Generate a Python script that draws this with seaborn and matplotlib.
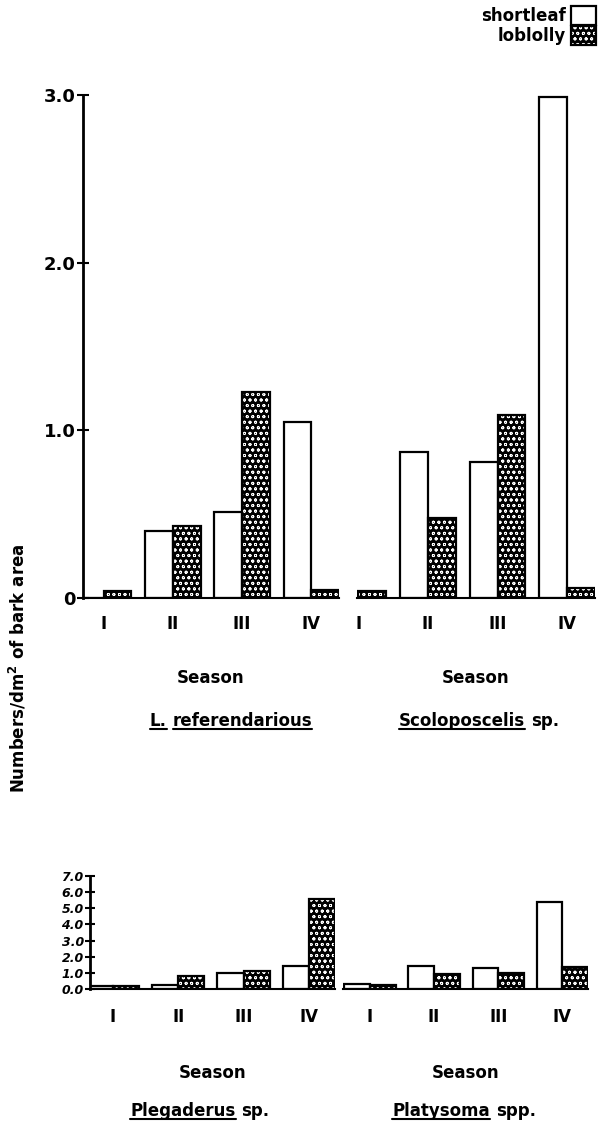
# Bark beetle predators per dm2 of bark, by season, on shortleaf vs loblolly pine

import pandas as pd
import seaborn as sns
import matplotlib.pyplot as plt
from matplotlib.patches import Patch, Rectangle
from matplotlib.lines import Line2D

# Categories
seasons = ['I', 'II', 'III', 'IV']
hosts = ['shortleaf', 'loblolly']

# Values (Numbers/dm2 of bark area)
lref_shortleaf = [0.0, 0.40, 0.51, 1.05]
lref_loblolly = [0.04, 0.43, 1.23, 0.05]
scol_shortleaf = [0.0, 0.87, 0.81, 2.99]
scol_loblolly = [0.04, 0.48, 1.09, 0.06]
pleg_shortleaf = [0.2, 0.25, 1.0, 1.4]
pleg_loblolly = [0.2, 0.8, 1.1, 5.6]
plat_shortleaf = [0.3, 1.43, 1.27, 5.4]
plat_loblolly = [0.25, 0.92, 0.98, 1.39]

# Tick labels
top_ticks = [0, 1, 2, 3]
top_ticklabels = ['0', '1.0', '2.0', '3.0']
bottom_ticks = [0, 1, 2, 3, 4, 5, 6, 7]
bottom_ticklabels = ['0.0', '1.0', '2.0', '3.0', '4.0', '5.0', '6.0', '7.0']

sns.set_style('ticks')
plt.rcParams['font.family'] = ['DejaVu Sans']
plt.rcParams['font.weight'] = 'bold'
plt.rcParams['text.color'] = 'black'
plt.rcParams['axes.labelcolor'] = 'black'
plt.rcParams['axes.edgecolor'] = 'black'
plt.rcParams['xtick.color'] = 'black'
plt.rcParams['ytick.color'] = 'black'
# loblolly: black fill with small white dots
plt.rcParams['hatch.linewidth'] = 0.6
plt.rcParams['hatch.color'] = 'white'

W, H = 604, 1130
fig = plt.figure(figsize=(W / 100, H / 100), dpi=100)
LOB_HATCH = 'ooo'


def px_axes(x0, x1, y_top, y_base):
    # axes box given in pixel coords of the picture
    return fig.add_axes([x0 / W, 1 - y_base / H, (x1 - x0) / W, (y_base - y_top) / H])


def make_df(short, lob):
    return pd.DataFrame({'Season': seasons * 2,
                         'host': [hosts[0]] * 4 + [hosts[1]] * 4,
                         'n': short + lob})


def draw_panel(ax, df, xlim, top, show_y):
    sns.barplot(data=df, x='Season', y='n', hue='host', order=seasons, hue_order=hosts,
                palette={'shortleaf': 'white', 'loblolly': 'black'}, edgecolor='black',
                linewidth=1.6, width=0.8, errorbar=None, legend=False, ax=ax)
    for bar in ax.containers[1]:
        bar.set_edgecolor('white')
        bar.set_linewidth(0)
        bar.set_hatch(LOB_HATCH)
        # solid black frame round the dotted bar
        ax.add_patch(Rectangle(bar.get_xy(), bar.get_width(), bar.get_height(),
                               fill=False, edgecolor='black', linewidth=1.6))
    ax.set_xlim(*xlim)
    for s in ['top', 'right']:
        ax.spines[s].set_visible(False)
    ax.spines['bottom'].set_linewidth(1.5)
    ax.spines['left'].set_linewidth(2)
    ax.set_ylabel('')
    if top:
        ax.set_ylim(0, 3.0)
        ax.set_yticks(top_ticks, top_ticklabels)
        ax.tick_params(axis='y', direction='inout', length=9, width=1.5, labelsize=13, pad=1)
        ax.tick_params(axis='x', length=0, labelsize=12, pad=12)
        ax.set_xlabel('Season', fontsize=12, fontweight='bold')
        ax.xaxis.set_label_coords(0.5, -0.141)
    else:
        ax.set_ylim(0, 7.0)
        ax.set_yticks(bottom_ticks, bottom_ticklabels, fontstyle='italic')
        ax.tick_params(axis='y', direction='inout', length=7, width=1.5, labelsize=9, pad=1)
        ax.tick_params(axis='x', length=0, labelsize=12, pad=14)
        ax.set_xlabel('Season', fontsize=12, fontweight='bold')
        ax.xaxis.set_label_coords(0.5, -0.66)
    if not show_y:
        ax.spines['left'].set_visible(False)
        ax.set_yticks([])


ax_tl = px_axes(83, 339, 95, 598)
draw_panel(ax_tl, make_df(lref_shortleaf, lref_loblolly), (-0.30, 3.4), True, True)
ax_tr = px_axes(357, 595, 95, 598)
draw_panel(ax_tr, make_df(scol_shortleaf, scol_loblolly), (-0.02, 3.4), True, False)
ax_bl = px_axes(90, 335, 876, 989)
draw_panel(ax_bl, make_df(pleg_shortleaf, pleg_loblolly), (-0.35, 3.4), False, True)
ax_br = px_axes(343, 588, 876, 989)
draw_panel(ax_br, make_df(plat_shortleaf, plat_loblolly), (-0.42, 3.4), False, False)

# y label for the whole figure
fig.text(18 / W, 1 - 668 / H, 'Numbers/dm$^\\mathbf{2}$ of bark area', rotation=90,
         ha='center', va='center', fontsize=12, fontweight='bold')

# species names, genus part underlined
renderer = fig.canvas.get_renderer()


def species_title(xc, y_base, parts, size=12):
    gap = 6
    texts = []
    for s, u in parts:
        t = fig.text(0, 1 - y_base / H, s, ha='left', va='baseline', fontsize=size,
                     fontweight='bold')
        texts.append((t, t.get_window_extent(renderer).width, u))
    total = sum(w for _, w, _ in texts) + gap * (len(texts) - 1)
    x = xc - total / 2
    for t, w, u in texts:
        t.set_x(x / W)
        if u:
            fig.add_artist(Line2D([x / W, (x + w) / W], [1 - (y_base + 3) / H] * 2,
                                  color='black', lw=1.5, transform=fig.transFigure))
        x += w + gap


species_title(231, 726, [('L.', True), ('referendarious', True)])
species_title(479, 726, [('Scoloposcelis', True), ('sp.', False)])
species_title(200, 1116, [('Plegaderus', True), ('sp.', False)])
species_title(464, 1116, [('Platysoma', True), ('spp.', False)])

# legend in the top right corner, labels left of the boxes
short_handle = Patch(facecolor='white', edgecolor='black', linewidth=1.6)
lob_handle = (Patch(facecolor='black', edgecolor='white', linewidth=0, hatch=LOB_HATCH),
              Patch(fill=False, edgecolor='black', linewidth=1.6))
fig.legend(handles=[short_handle, lob_handle], labels=hosts, loc='upper right',
           bbox_to_anchor=(596 / W, 1 - 6 / H),
           frameon=False, markerfirst=False, handlelength=1.5, handleheight=1.4,
           handletextpad=0.3, labelspacing=0.05, fontsize=12, borderpad=0, borderaxespad=0)

fig.savefig('out.png', dpi=100)
